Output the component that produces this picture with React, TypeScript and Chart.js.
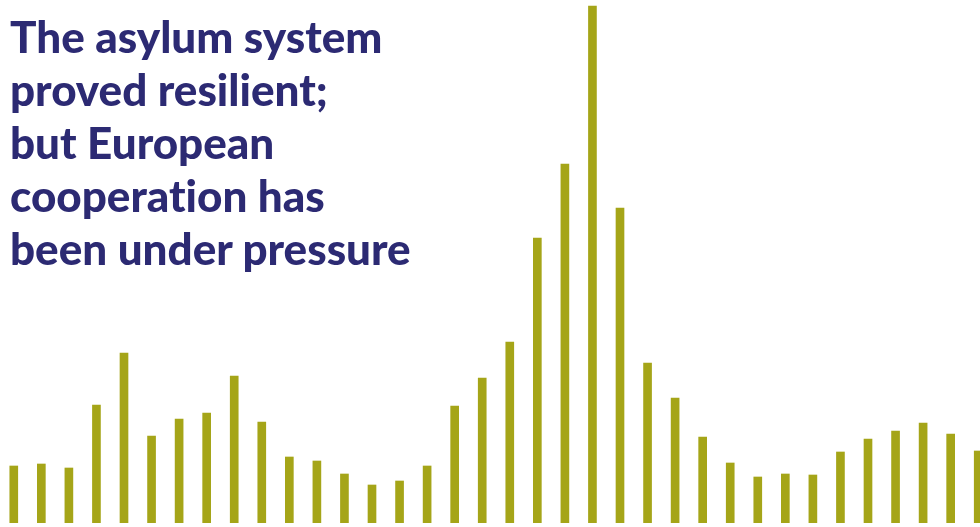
import React, { useEffect, useRef } from "react";
import { Chart, registerables } from "chart.js";

Chart.register(...registerables);

const titleLines: string[] = [
  "The asylum system",
  "proved resilient;",
  "but European",
  "cooperation has",
  "been under pressure",
];

const categories: string[] = Array.from({ length: 36 }, (_, i) => String(i + 1));

const values: number[] = [
  57, 59, 55, 118, 170, 87, 104, 110, 147, 101, 66, 62, 49, 38, 42, 57, 117, 145,
  181, 285, 359, 517, 315, 160, 125, 86, 60, 46, 49, 48, 71, 84, 92, 100, 89, 72,
];

const BAR_COLOR = "#a5a518";
const TITLE_COLOR = "#2c2a73";

export default function App() {
  const canvasRef = useRef<HTMLCanvasElement | null>(null);

  useEffect(() => {
    document.body.style.margin = "0";
    const canvas = canvasRef.current;
    if (!canvas) return;
    const chart = new Chart(canvas, {
      type: "bar",
      data: {
        labels: categories,
        datasets: [
          {
            data: values,
            backgroundColor: BAR_COLOR,
            borderWidth: 0,
            barThickness: 8,
          },
        ],
      },
      options: {
        responsive: false,
        animation: false,
        layout: { padding: 0 },
        plugins: {
          legend: { display: false },
          title: { display: false },
          tooltip: { enabled: false },
        },
        scales: {
          x: { display: false, offset: true },
          y: { display: false, min: 0, max: 523 },
        },
      },
    });
    return () => chart.destroy();
  }, []);

  return (
    <div
      style={{
        position: "fixed",
        left: 0,
        top: 0,
        width: 980,
        height: 527,
        overflow: "hidden",
        background: "#ffffff",
      }}
    >
      <canvas
        ref={canvasRef}
        width={992}
        height={523}
        style={{ position: "absolute", left: 0, top: 0, width: 992, height: 523 }}
      />
      <div
        style={{
          position: "absolute",
          left: 10,
          top: 10,
          fontFamily: "Lato, 'Open Sans', sans-serif",
          fontWeight: 900,
          fontSize: 44,
          lineHeight: "53px",
          color: TITLE_COLOR,
          whiteSpace: "pre",
          fontVariantLigatures: "none",
        }}
      >
        {titleLines.map((l, i) => (
          <div key={i}>{l}</div>
        ))}
      </div>
    </div>
  );
}
